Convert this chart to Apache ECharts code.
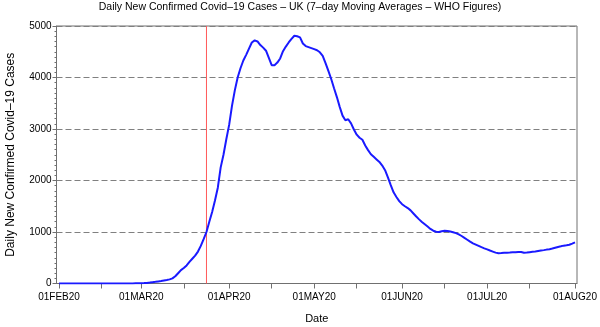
<!DOCTYPE html>
<html>
<head>
<meta charset="utf-8">
<script src="https://cdn.jsdelivr.net/npm/echarts@6/dist/echarts.min.js"></script>
<style>
  html, body { margin: 0; padding: 0; background: #fff; }
  #chart { width: 600px; height: 327px; }
</style>
</head>
<body>
<div id="chart"></div>
<script>
// UK daily new confirmed cases, 7-day moving average (WHO), one value per day from 01FEB20
const startDate = '2020-02-01';
const cases = [
  0, 0, 0, 0, 0, 0, 0, 0, 0, 0,
  0, 0, 0, 0, 0, 1, 1, 1, 1, 1,
  1, 1, 1, 1, 2, 2, 2, 3, 3, 5,
  8, 12, 18, 25, 32, 40, 48, 58, 68, 80,
  100, 140, 200, 260, 300, 350, 420, 480, 540, 620,
  730, 860, 1000, 1200, 1390, 1610, 1860, 2250, 2500, 2800,
  3080, 3450, 3750, 4000, 4180, 4330, 4440, 4560, 4680, 4720,
  4700, 4630, 4580, 4520, 4380, 4240, 4240, 4290, 4370, 4510,
  4600, 4680, 4750, 4810, 4800, 4780, 4660, 4610, 4590, 4570,
  4550, 4530, 4490, 4420, 4280, 4130, 3970, 3790, 3620, 3430,
  3260, 3170, 3190, 3110, 2990, 2890, 2830, 2790, 2680, 2590,
  2510, 2460, 2410, 2360, 2290, 2200, 2060, 1910, 1770, 1680,
  1600, 1540, 1500, 1465, 1420, 1360, 1300, 1245, 1195, 1150,
  1105, 1060, 1025, 1005, 1000, 1015, 1025, 1020, 1008, 995,
  978, 955, 922, 885, 850, 812, 780, 755, 730, 705,
  683, 663, 640, 620, 600, 587, 590, 595, 597, 600,
  605, 608, 612, 610, 597, 600, 608, 615, 620, 630,
  640, 648, 658, 666, 680, 695, 710, 722, 735, 742,
  752, 775, 800
];

// Axis ticks: labelled month starts and unlabelled mid-month ticks
const tickDates = ['2020-02-01', '2020-03-01', '2020-04-01', '2020-05-01', '2020-06-01', '2020-07-01', '2020-08-01'];
const tickLabels = ['01FEB20', '01MAR20', '01APR20', '01MAY20', '01JUN20', '01JUL20', '01AUG20'];
const midTickDates = ['2020-02-16', '2020-03-16', '2020-04-16', '2020-05-16', '2020-06-16', '2020-07-16'];
const lockdownDate = '2020-03-24';
const yTicks = [0, 1000, 2000, 3000, 4000, 5000];

// x is measured in days since startDate
const DAY = 86400000;
const dayOf = s => Math.round((Date.parse(s + 'T00:00:00Z') - Date.parse(startDate + 'T00:00:00Z')) / DAY);
const seriesData = cases.map((v, i) => [i, v]);
const labelDays = tickDates.map(dayOf);
const allTickDays = labelDays.concat(midTickDates.map(dayOf)).sort((a, b) => a - b);
const yMin = yTicks[0];
const yMax = yTicks[yTicks.length - 1];
const lockdownDay = dayOf(lockdownDate);

const FONT = '"Liberation Sans", Arial, sans-serif';

const chart = echarts.init(document.getElementById('chart'), null, { renderer: 'canvas' });
chart.setOption({
  animation: false,
  backgroundColor: '#ffffff',
  title: {
    text: 'Daily New Confirmed Covid\u201319 Cases \u2013 UK (7\u2013day Moving Averages \u2013 WHO Figures)',
    left: 'center',
    top: 2,
    padding: 0,
    textStyle: { fontFamily: FONT, fontSize: 10.5, fontWeight: 'normal', color: '#000' }
  },
  grid: {
    left: 56.5, right: 23, top: 26, bottom: 43.5,
    containLabel: false,
    outerBoundsMode: 'none',
    show: true, borderColor: '#707070', borderWidth: 1, backgroundColor: 'transparent'
  },
  xAxis: {
    type: 'value',
    min: labelDays[0] - 0.9,
    max: labelDays[labelDays.length - 1] + 0.7,
    name: 'Date',
    nameLocation: 'middle',
    nameGap: 30,
    nameTextStyle: { fontFamily: FONT, fontSize: 11, color: '#000' },
    axisLine: { show: true, onZero: false, lineStyle: { color: '#707070', width: 1 } },
    axisTick: { show: true, customValues: allTickDays, length: 5, lineStyle: { color: '#707070' } },
    axisLabel: {
      customValues: labelDays,
      margin: 9,
      fontFamily: FONT, fontSize: 10, color: '#000',
      formatter: v => {
        const i = labelDays.indexOf(Math.round(v));
        return i >= 0 ? tickLabels[i] : '';
      }
    },
    splitLine: { show: false }
  },
  yAxis: {
    type: 'value',
    min: yMin,
    max: yMax,
    interval: 1000,
    name: 'Daily New Confirmed Covid\u201319 Cases',
    nameLocation: 'middle',
    nameGap: 40,
    nameTextStyle: { fontFamily: FONT, fontSize: 12, color: '#000' },
    axisLine: { show: true, onZero: false, lineStyle: { color: '#707070', width: 1 } },
    axisTick: { show: true, length: 4, lineStyle: { color: '#707070' } },
    minorTick: { show: true, splitNumber: 10, length: 2, lineStyle: { color: '#707070' } },
    axisLabel: { margin: 5, fontFamily: FONT, fontSize: 10, color: '#000', formatter: v => String(v) },
    splitLine: { show: true, lineStyle: { color: '#808080', type: [6, 3], width: 1 } }
  },
  series: [{
    // lockdown reference line
    type: 'line',
    data: [[lockdownDay, yMin], [lockdownDay, yMax]],
    showSymbol: false,
    silent: true,
    lineStyle: { color: '#ff5a5a', width: 1 },
    itemStyle: { color: '#ff5a5a' },
    z: 2
  }, {
    type: 'line',
    data: seriesData,
    showSymbol: false,
    smooth: false,
    lineStyle: { color: '#1a1aff', width: 2 },
    itemStyle: { color: '#1a1aff' },
    z: 3
  }]
});
</script>
</body>
</html>
